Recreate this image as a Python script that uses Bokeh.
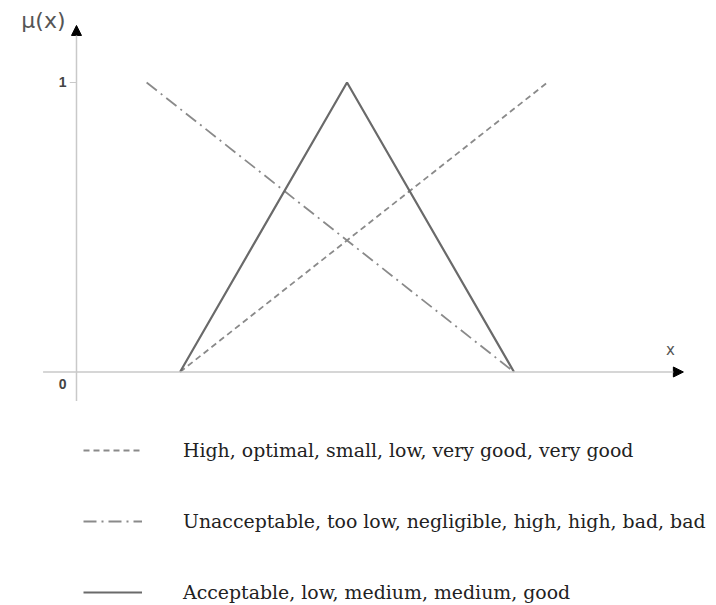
from bokeh.plotting import figure
from bokeh.models import Range1d, Arrow, NormalHead, Legend, LegendItem, Label
from bokeh.core.properties import value
from bokeh.embed import file_html
from bokeh.resources import INLINE

# ---- data ----
acceptable_x = [3.1, 8.1, 13.1]
acceptable_mu = [0, 1, 0]
high_x = [3.1, 14.1]
high_mu = [0, 1]
unacceptable_x = [2.1, 13.1]
unacceptable_mu = [1, 0]

legend_labels = [
    "High, optimal, small, low, very good, very good",
    "Unacceptable, too low, negligible, high, high, bad, bad",
    "Acceptable, low, medium, medium, good",
]
x_axis_span = [-1.0, 18.17]
y_axis_span = [-0.1, 1.197]
tick_values = [0, 1]
tick_labels = ["0", "1"]
y_title = "\u03bc(x)"
x_title = "x"

# ---- figure ----
p = figure(width=716, height=605, output_backend="svg", toolbar_location=None,
           x_range=Range1d(-2.275, 19.162), y_range=Range1d(-0.8066, 1.2832),
           x_axis_type=None, y_axis_type=None, min_border=0,
           outline_line_color=None)
p.grid.visible = False
p.background_fill_color = "white"
p.border_fill_color = "white"

axis_color = "#c9c9c9"
# axes with arrow heads
p.add_layout(Arrow(end=NormalHead(size=10, fill_color="black", line_color="black", line_width=1),
                   x_start=x_axis_span[0], y_start=0, x_end=x_axis_span[1], y_end=0,
                   line_color=axis_color, line_width=1.5))
p.add_layout(Arrow(end=NormalHead(size=10, fill_color="black", line_color="black", line_width=1),
                   x_start=0, y_start=y_axis_span[0], x_end=0, y_end=y_axis_span[1],
                   line_color=axis_color, line_width=1.5))

# tick at 1
tick_len = 0.2
pos_ticks = [v for v in tick_values if v > 0]
p.segment(x0=[-tick_len] * len(pos_ticks), y0=pos_ticks,
          x1=[0] * len(pos_ticks), y1=pos_ticks,
          line_color=axis_color, line_width=1.2)

# tick labels
p.text(x=[0] * len(tick_values), y=tick_values, text=tick_labels,
       x_offset=-10, y_offset=[12 if v == 0 else 0 for v in tick_values],
       text_align="right", text_baseline="middle",
       text_font=value("Liberation Sans"), text_font_size="14px",
       text_color="#444444", text_font_style="bold")

p.add_layout(Label(x=0, y=y_axis_span[1], text=y_title, x_offset=-11, y_offset=5,
                   text_align="right", text_baseline="middle",
                   text_font="DejaVu Sans", text_font_size="22px", text_color="#555555"))
p.add_layout(Label(x=x_axis_span[1], y=0, text=x_title, x_offset=-13, y_offset=22,
                   text_align="center", text_baseline="middle",
                   text_font="DejaVu Sans", text_font_size="15px", text_color="#555555"))

# membership functions
r_high = p.line(high_x, high_mu, line_color="#8a8a8a", line_width=1.8, line_dash="6 4")
r_unacc = p.line(unacceptable_x, unacceptable_mu, line_color="#8a8a8a", line_width=1.8,
                 line_dash="13 5 2 5")
r_acc = p.line(acceptable_x, acceptable_mu, line_color="#6a6a6a", line_width=2.2)

legend = Legend(items=[LegendItem(label=legend_labels[0], renderers=[r_high]),
                       LegendItem(label=legend_labels[1], renderers=[r_unacc]),
                       LegendItem(label=legend_labels[2], renderers=[r_acc])],
                location=(83, 1), orientation="vertical",
                glyph_width=59, glyph_height=24, label_height=24, spacing=47,
                label_standoff=41, padding=0, margin=0,
                border_line_alpha=0, background_fill_alpha=0,
                label_text_font="DejaVu Serif", label_text_font_size="18.9px",
                label_text_color="#222222", label_text_baseline="middle")
p.add_layout(legend, "center")

open("out.html", "w").write(file_html(p, INLINE))
